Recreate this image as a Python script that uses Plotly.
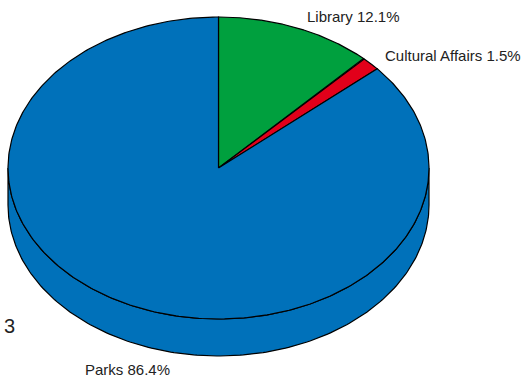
import numpy as np
import plotly.graph_objects as go

categories = ["Library", "Cultural Affairs", "Parks"]
values = [12.1, 1.5, 86.4]
colors = ["#00A03E", "#E2001A", "#0071BA"]

W, H = 525, 379
cx, cy, rx, ry, depth = 218.5, 168.0, 210.5, 151.0, 37.0


def pt(theta_deg, dy=0.0):
    t = np.radians(theta_deg)
    return cx + rx * np.sin(t), cy - ry * np.cos(t) + dy


fig = go.Figure()

total = sum(values)
bounds = np.concatenate([[0], np.cumsum(values) / total * 360.0])

# side wall (front visible part: 90..270 degrees)
for i in range(len(values)):
    a0, a1 = max(bounds[i], 90), min(bounds[i + 1], 270)
    if a1 <= a0:
        continue
    th = np.linspace(a0, a1, 200)
    x1, y1 = pt(th)
    x2, y2 = pt(th[::-1], depth)
    xs = np.concatenate([x1, x2, [x1[0]]])
    ys = np.concatenate([y1, y2, [y1[0]]])
    fig.add_trace(go.Scatter(x=xs, y=ys, mode="lines", fill="toself",
                             fillcolor=colors[i], line=dict(color="black", width=1.2),
                             hoverinfo="skip", showlegend=False))

# top slices
for i in range(len(values)):
    th = np.linspace(bounds[i], bounds[i + 1], 400)
    x1, y1 = pt(th)
    xs = np.concatenate([[cx], x1, [cx]])
    ys = np.concatenate([[cy], y1, [cy]])
    fig.add_trace(go.Scatter(x=xs, y=ys, mode="lines", fill="toself",
                             fillcolor=colors[i], line=dict(color="black", width=1.2),
                             hoverinfo="skip", showlegend=False))

# labels
offsets = [(8, -11, "left"), (12, -8, "left"), (-4, 64, "center")]
font = dict(family="Liberation Sans, Arial, sans-serif", size=15, color="#222")
for i, c in enumerate(categories):
    mid = (bounds[i] + bounds[i + 1]) / 2
    lx, ly = pt(mid)
    ox, oy, anc = offsets[i]
    fig.add_annotation(x=lx + ox, y=ly + oy, text=f"{c} {values[i]}%",
                       showarrow=False, xanchor=anc, yanchor="middle", font=font)

fig.add_annotation(x=2, y=326, text="3", showarrow=False, xanchor="left", yanchor="middle",
                   font=dict(family="Liberation Sans, Arial, sans-serif", size=20, color="#222"))

fig.update_layout(
    width=W, height=H, margin=dict(l=0, r=0, t=0, b=0),
    paper_bgcolor="white", plot_bgcolor="white",
    xaxis=dict(range=[0, W], visible=False, fixedrange=True),
    yaxis=dict(range=[H, 0], visible=False, fixedrange=True),
)
fig.write_html("out.html", config={"displayModeBar": False},
               post_script="document.body.style.margin='0';document.body.style.overflow='hidden';")
